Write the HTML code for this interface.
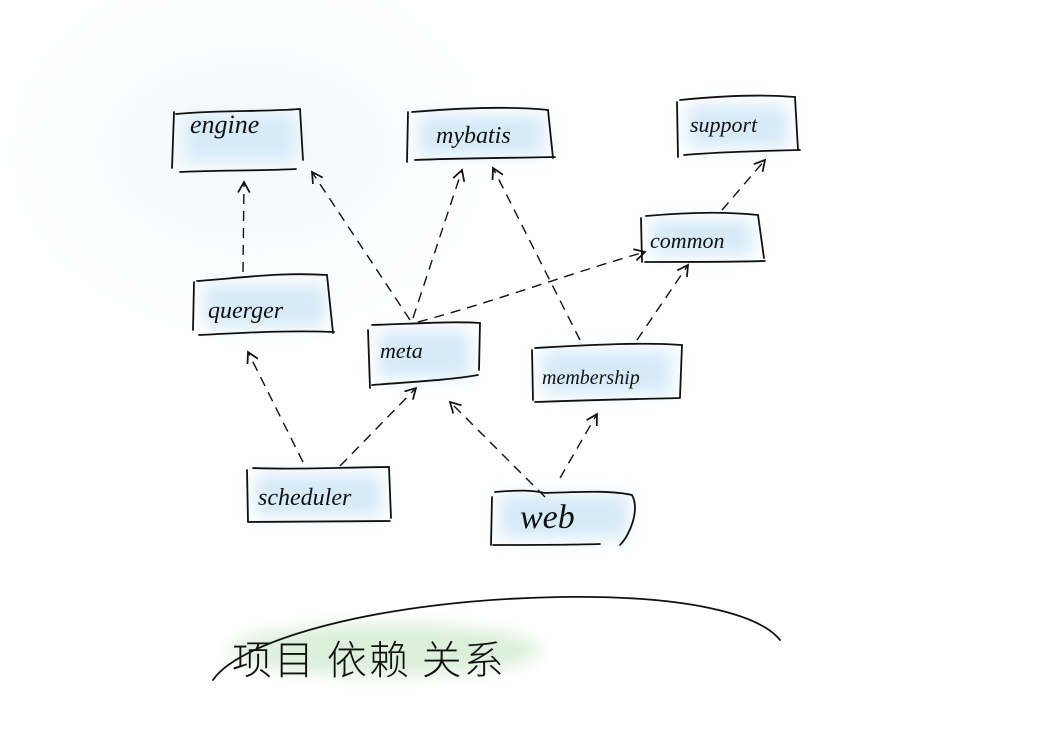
<!DOCTYPE html>
<html><head><meta charset="utf-8"><style>
html,body{margin:0;padding:0;background:#fff;}
svg{display:block}
text{font-family:"Liberation Serif",serif;font-style:italic;fill:#111}
</style></head><body>
<svg width="1061" height="741" viewBox="0 0 1061 741" xmlns="http://www.w3.org/2000/svg">
<defs>
<filter id="b" x="-50%" y="-50%" width="200%" height="200%"><feGaussianBlur stdDeviation="8"/></filter>
<filter id="bg" x="-50%" y="-50%" width="200%" height="200%"><feGaussianBlur stdDeviation="50"/></filter>
<marker id="a" viewBox="0 0 12 12" refX="10" refY="6" markerWidth="14" markerHeight="14" orient="auto" markerUnits="userSpaceOnUse">
<path d="M1,1 L10,6 L1,11" fill="none" stroke="#111" stroke-width="1.5"/></marker>
</defs>
<ellipse cx="250" cy="150" rx="180" ry="120" fill="#f6fafd" filter="url(#bg)"/>
<g fill="#d6eaf8" filter="url(#b)">
<rect x="185" y="115" width="110" height="45"/>
<rect x="420" y="115" width="125" height="40"/>
<rect x="688" y="105" width="100" height="42"/>
<rect x="652" y="220" width="100" height="35"/>
<rect x="205" y="285" width="120" height="42"/>
<rect x="378" y="330" width="92" height="48"/>
<rect x="542" y="350" width="130" height="44"/>
<rect x="256" y="474" width="126" height="42"/>
<rect x="500" y="494" width="128" height="44"/>
</g>
<ellipse cx="385" cy="650" rx="155" ry="26" fill="#dcf0da" filter="url(#b)"/>
<g fill="none" stroke="#111" stroke-width="1.8" stroke-linecap="round">
<path d="M174,112 L172,168 M176,114 C220,110 260,112 300,109 L303,160 M180,172 C220,170 260,171 296,169"/>
<path d="M408,112 L407,162 M412,112 C460,108 510,106 548,110 L553,158 M415,160 C460,158 510,158 555,157"/>
<path d="M677,102 L678,157 M680,100 C720,96 760,94 795,97 L798,150 M684,155 C720,152 760,151 800,150"/>
<path d="M641,218 L642,262 M646,216 C690,212 730,212 758,215 L764,258 M645,262 C690,262 730,262 765,261"/>
<path d="M194,282 L193,330 M197,281 C240,278 280,272 327,275 L333,333 M199,335 C240,333 290,330 334,332"/>
<path d="M368,330 L370,388 M372,325 C410,324 450,321 480,323 L479,370 M372,385 C410,382 450,380 478,375"/>
<path d="M532,350 L533,400 M535,348 C590,345 640,342 682,345 L680,397 M535,402 C590,400 640,399 680,398"/>
<path d="M247,470 L248,522 M253,468 C300,470 350,467 389,467 L391,518 M248,522 C300,522 350,521 390,521"/>
<path d="M492,497 L491,545 M495,492 C520,490 530,490 545,493 C580,492 610,490 632,495 C640,510 630,535 620,545 M493,545 C540,545 570,545 600,544"/>
<path d="M213,680 C240,640 380,600 560,597 C690,595 760,615 780,640"/>
</g>
<g fill="none" stroke="#111" stroke-width="1.4" stroke-dasharray="10,7" marker-end="url(#a)">
<path d="M243,272 L244,182"/>
<path d="M410,320 L312,172"/>
<path d="M413,318 L462,170"/>
<path d="M418,322 C500,300 580,270 645,252"/>
<path d="M580,340 L493,168"/>
<path d="M637,340 L688,265"/>
<path d="M722,210 L765,160"/>
<path d="M303,462 L248,352"/>
<path d="M340,466 L416,388"/>
<path d="M545,497 L450,402"/>
<path d="M560,478 L597,414"/>
</g>
<text x="190" y="133" font-size="26">engine</text>
<text x="436" y="143" font-size="24">mybatis</text>
<text x="690" y="132" font-size="22">support</text>
<text x="650" y="248" font-size="22">common</text>
<text x="208" y="318" font-size="24">querger</text>
<text x="380" y="358" font-size="22">meta</text>
<text x="542" y="384" font-size="20">membership</text>
<text x="258" y="505" font-size="24">scheduler</text>
<text x="520" y="528" font-size="34">web</text>
<text x="232" y="674" font-size="40" style="font-family:'Noto Sans CJK SC','WenQuanYi Zen Hei',sans-serif;font-style:normal;font-weight:300" letter-spacing="2">项目 依赖 关系</text>
</svg>
</body></html>
